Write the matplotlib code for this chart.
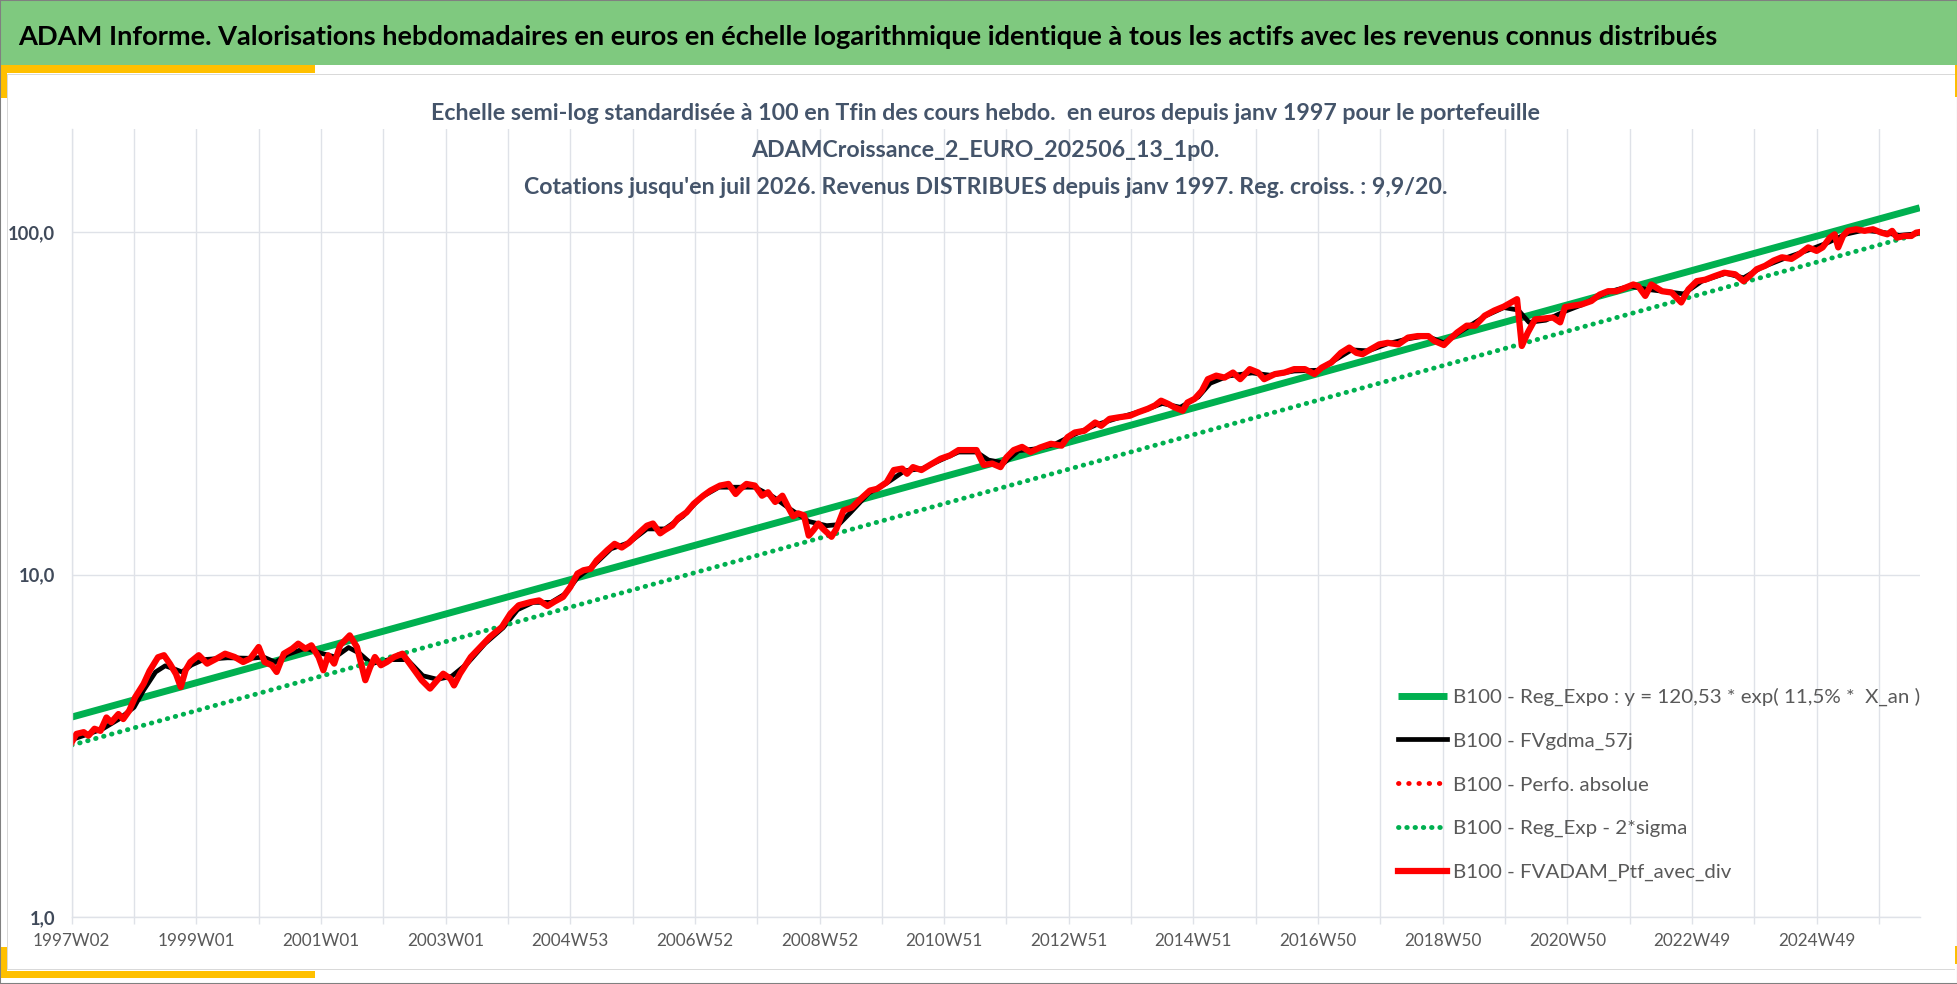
import matplotlib
matplotlib.use('Agg')
import matplotlib.pyplot as plt
from matplotlib import font_manager
from matplotlib.patches import Rectangle
from matplotlib.ticker import NullLocator

# === Données (x = index de semaine depuis 1997W02) ===
ptf_weeks = [0, 4, 10, 14, 19, 24, 29, 33, 39, 43, 48, 53, 60, 65, 72, 77, 82, 87, 91, 95,
             99, 106, 113, 121, 128, 136, 143, 149, 156, 161, 167, 171, 177, 184, 189, 195, 200, 206, 210, 214,
             219, 224, 232, 238, 245, 249, 253, 258, 263, 269, 276, 281, 287, 292, 299, 305, 310, 316, 319, 324,
             333, 341, 349, 359, 366, 373, 383, 390, 397, 403, 410, 416, 422, 427, 433, 438, 447, 453, 459, 465,
             470, 476, 480, 485, 491, 495, 501, 506, 513, 519, 527, 533, 541, 548, 554, 558, 563, 570, 576, 581,
             587, 593, 598, 602, 606, 611, 615, 619, 623, 627, 634, 638, 644, 651, 658, 666, 672, 680, 686, 693,
             697, 702, 709, 716, 725, 733, 740, 747, 755, 761, 768, 775, 780, 786, 793, 800, 808, 817, 826, 831,
             837, 845, 854, 859, 866, 874, 883, 890, 898, 904, 909, 915, 920, 927, 931, 937, 943, 948, 955, 962,
             969, 975, 983, 990, 995, 1004, 1012, 1020, 1029, 1037, 1043, 1051, 1059, 1066, 1072, 1077, 1084, 1091, 1098, 1107,
             1115, 1123, 1132, 1137, 1145, 1150, 1156, 1164, 1171, 1179, 1187, 1195, 1201, 1206, 1210, 1215, 1221, 1228, 1236, 1242,
             1246, 1253, 1260, 1268, 1275, 1282, 1289, 1296, 1303, 1307, 1313, 1318, 1327, 1335, 1343, 1349, 1356, 1363, 1371, 1379,
             1388, 1395, 1400, 1406, 1413, 1420, 1427, 1435, 1442, 1449, 1456, 1461, 1467, 1471, 1474, 1478, 1482, 1489, 1496, 1503,
             1510, 1515, 1519, 1523, 1529, 1535, 1539, 1542]
ptf_values = [3.24, 3.43, 3.47, 3.39, 3.55, 3.50, 3.83, 3.71, 3.92, 3.79, 4.01, 4.39, 4.80, 5.24, 5.74, 5.82, 5.49, 5.13, 4.70, 5.26,
              5.56, 5.82, 5.50, 5.69, 5.88, 5.75, 5.56, 5.69, 6.15, 5.56, 5.44, 5.20, 5.88, 6.08, 6.29, 6.08, 6.22, 5.75, 5.26, 5.82,
              5.50, 6.22, 6.65, 6.15, 4.92, 5.37, 5.75, 5.44, 5.56, 5.75, 5.88, 5.56, 5.20, 4.92, 4.65, 4.92, 5.14, 4.97, 4.75, 5.14,
              5.75, 6.15, 6.58, 7.04, 7.69, 8.14, 8.32, 8.41, 8.10, 8.35, 8.61, 9.2, 10.07, 10.3, 10.4, 11.0, 11.8, 12.3, 12.0, 12.4,
              12.9, 13.5, 13.9, 14.1, 13.2, 13.5, 13.9, 14.6, 15.2, 16.1, 17.0, 17.6, 18.2, 18.4, 17.2, 17.8, 18.4, 18.2, 17.0, 17.4,
              16.3, 17.0, 15.7, 14.8, 15.1, 14.9, 13.0, 13.5, 14.1, 13.6, 12.9, 13.6, 15.4, 15.7, 16.6, 17.6, 17.8, 18.6, 20.2, 20.4,
              19.7, 20.6, 20.2, 20.9, 21.8, 22.3, 23.1, 23.1, 23.1, 20.9, 21.1, 20.6, 22.0, 23.1, 23.6, 22.8, 23.5, 24.1, 23.8, 25.2,
              26.0, 26.3, 27.8, 27.2, 28.5, 28.8, 29.1, 29.8, 30.5, 31.2, 32.2, 31.5, 30.8, 30.1, 31.8, 32.6, 34.4, 37.2, 38.1, 37.6,
              38.9, 37.2, 39.8, 38.9, 37.2, 38.5, 38.9, 39.8, 39.8, 38.5, 40.2, 41.6, 44.4, 46.0, 44.4, 44.0, 45.5, 47.0, 47.5, 47.0,
              49.2, 49.7, 49.7, 48.1, 46.8, 48.7, 50.9, 53.3, 53.3, 57.0, 59.0, 60.6, 62.3, 63.7, 46.5, 50.9, 55.6, 55.9, 56.3, 54.5,
              60.4, 61.0, 61.5, 62.9, 65.7, 67.2, 67.2, 68.7, 70.3, 69.6, 65.1, 70.3, 67.2, 66.6, 62.3, 68.0, 71.9, 72.6, 74.4, 76.1,
              75.3, 71.9, 74.4, 77.9, 79.7, 82.5, 84.4, 83.5, 86.5, 90.2, 88.1, 90.2, 96.3, 98.5, 90.2, 97.4, 100.8, 101.9, 100.8, 101.9,
              99.6, 98.5, 100.8, 96.3, 97.4, 97.4, 99.6, 100.0]

gdma_weeks = [0, 13, 26, 39, 52, 60, 70, 78, 86, 92, 100, 110, 130, 150, 160, 170, 180, 195, 208, 220,
              231, 240, 250, 265, 280, 293, 305, 317, 330, 345, 360, 372, 385, 400, 412, 422, 435, 450, 465, 480,
              495, 510, 525, 540, 555, 570, 585, 600, 615, 630, 640, 650, 665, 680, 695, 710, 725, 740, 755, 765,
              778, 790, 805, 820, 835, 855, 875, 895, 910, 925, 940, 950, 965, 985, 1000, 1020, 1040, 1055, 1068, 1082,
              1098, 1115, 1130, 1145, 1160, 1180, 1195, 1207, 1216, 1230, 1245, 1260, 1280, 1300, 1315, 1330, 1345, 1360, 1380, 1395,
              1410, 1430, 1450, 1465, 1480, 1495, 1510, 1525, 1542]
gdma_values = [3.3, 3.42, 3.55, 3.78, 4.1, 4.6, 5.2, 5.42, 5.3, 5.2, 5.45, 5.65, 5.72, 5.7, 5.75, 5.55, 5.85, 6.1, 5.9, 5.75,
               6.13, 5.9, 5.5, 5.65, 5.65, 5.07, 4.95, 5.05, 5.5, 6.3, 7.0, 7.9, 8.3, 8.3, 8.8, 9.8, 10.6, 11.9, 12.4, 13.6,
               13.6, 14.8, 16.8, 18.0, 18.0, 18.0, 16.9, 15.5, 14.3, 13.9, 14.0, 15.2, 17.3, 18.5, 20.1, 20.4, 21.6, 22.8, 22.8, 21.6,
               21.2, 23.0, 23.3, 24.0, 25.5, 27.4, 28.8, 30.2, 31.6, 30.8, 33.0, 36.2, 38.0, 38.8, 38.2, 39.3, 39.5, 42.5, 45.3, 45.0,
               47.2, 48.8, 49.8, 47.5, 51.5, 57.0, 60.2, 59.2, 54.5, 55.3, 58.5, 61.3, 66.5, 69.5, 68.0, 67.0, 66.0, 71.8, 75.8, 73.5,
               78.8, 84.0, 88.8, 93.0, 98.5, 101.2, 100.0, 97.8, 99.0]

reg_weeks = [0, 1542]
reg_values = [3.84, 117.7]
reg2s_weeks = [0, 1542]
reg2s_values = [3.18, 98.9]

n_last_week = 1542
x_ticklabels = ['1997W02', '1999W01', '2001W01', '2003W01', '2004W53', '2006W52', '2008W52',
                '2010W51', '2012W51', '2014W51', '2016W50', '2018W50', '2020W50', '2022W49', '2024W49']
y_ticks = [1, 10, 100]
y_ticklabels = ['1,0', '10,0', '100,0']

legend_labels = ['B100 - Reg_Expo : y = 120,53 * exp( 11,5% *  X_an )',
                 'B100 - FVgdma_57j',
                 'B100 - Perfo. absolue',
                 'B100 - Reg_Exp - 2*sigma',
                 'B100 - FVADAM_Ptf_avec_div']

title = ("ADAM Informe. Valorisations hebdomadaires en euros en échelle logarithmique "
         "identique à tous les actifs avec les revenus connus distribués")
subtitle_lines = ["Echelle semi-log standardisée à 100 en Tfin des cours hebdo.  en euros depuis janv 1997 pour le portefeuille",
                  "ADAMCroissance_2_EURO_202506_13_1p0.",
                  "Cotations jusqu'en juil 2026. Revenus DISTRIBUES depuis janv 1997. Reg. croiss. : 9,9/20."]

# === Polices ===
_names = {f.name for f in font_manager.fontManager.ttflist}
BASE = 'Liberation Sans Narrow' if 'Liberation Sans Narrow' in _names else 'Lato'
plt.rcParams['font.family'] = [BASE, 'DejaVu Sans']

W, H = 1958, 984
fig = plt.figure(figsize=(W / 100, H / 100), dpi=100)
fig.patch.set_facecolor('white')
renderer = fig.canvas.get_renderer()


def fit_size(text, width_px, weight='normal'):
    prop = font_manager.FontProperties(family=[BASE, 'DejaVu Sans'], weight=weight, size=10)
    w, h, d = renderer.get_text_width_height_descent(text, prop, ismath=False)
    return 10 * width_px / w


def px_rect(x0, y0, x1, y1, color, z=1):
    fig.patches.append(Rectangle((x0 / W, 1 - y1 / H), (x1 - x0) / W, (y1 - y0) / H,
                                 transform=fig.transFigure, facecolor=color, edgecolor='none', zorder=z))


# === Cadre, bandeau vert, coins jaunes ===
px_rect(0, 0, W, 65, '#7FC97F')
px_rect(7, 73.5, W - 3, 74.8, '#D9D9D9')
px_rect(7, 74, 8.3, 970, '#D9D9D9')
px_rect(7, 969, W - 3, 970.3, '#D9D9D9')
px_rect(0, 65, 315, 73, '#FFC000', 2)
px_rect(0, 65, 7, 98, '#FFC000', 2)
px_rect(0, 970.5, 315, 978, '#FFC000', 2)
px_rect(0, 947, 7, 978, '#FFC000', 2)
px_rect(W - 3, 65, W, 97, '#FFC000', 2)
px_rect(W - 3, 946, W, 964, '#FFC000', 2)
fig.patches.append(Rectangle((0, 0), 1, 1, transform=fig.transFigure, facecolor='none',
                             edgecolor='#808080', linewidth=1.5, zorder=3))

# === Titres ===
fig.text(18 / W, 1 - 45 / H, title, ha='left', va='baseline', color='black',
         fontsize=fit_size(title, 1710, 'bold'), fontweight='bold')
fs_sub = fit_size(subtitle_lines[0], 1115, 'bold')
for i, line in enumerate(subtitle_lines):
    fig.text(985.5 / W, 1 - (120 + 37 * i) / H, line, ha='center', va='baseline',
             color='#44546A', fontsize=fs_sub, fontweight='bold')

# === Axes ===
left, right, bottom, top = 71.7, 1919.7, 917.3, 128.9
ax = fig.add_axes([left / W, 1 - bottom / H, (right - left) / W, (bottom - top) / H])
ax.set_yscale('log')
ax.set_xlim(0, n_last_week)
ax.set_ylim(1, 200)

ax.plot(reg_weeks, reg_values, color='#00B050', lw=5.0, solid_capstyle='butt', label=legend_labels[0])
ax.plot(gdma_weeks, gdma_values, color='black', lw=3.4, solid_joinstyle='round', label=legend_labels[1])
ax.plot(ptf_weeks, ptf_values, color='#FF0000', lw=3.5, linestyle=(0, (0.1, 2.0)),
        dash_capstyle='round', label=legend_labels[2])
ax.plot(reg2s_weeks, reg2s_values, color='#00B050', lw=3.5, linestyle=(0, (0.1, 1.6)),
        dash_capstyle='round', label=legend_labels[3])
ax.plot(ptf_weeks, ptf_values, color='#FF0000', lw=4.5, solid_joinstyle='round', label=legend_labels[4])

grid_c = '#DFE2E8'
ax.set_xticks([i * 104 for i in range(len(x_ticklabels))], labels=x_ticklabels)
ax.set_xticks(list(range(0, n_last_week + 1, 52)), minor=True)
ax.set_yticks(y_ticks, labels=y_ticklabels)
ax.yaxis.set_minor_locator(NullLocator())
ax.grid(axis='x', which='both', color=grid_c, lw=1.0)
ax.grid(axis='y', which='major', color=grid_c, lw=1.0)
ax.set_axisbelow(True)
for s in ['top', 'right']:
    ax.spines[s].set_visible(False)
for s in ['left', 'bottom']:
    ax.spines[s].set_color(grid_c)
    ax.spines[s].set_linewidth(1.0)

fs_x = 1.12 * fit_size('1997W02', 69)
fs_y = 1.12 * fit_size('100,0', 42, 'bold')
ax.tick_params(axis='x', which='both', direction='out', length=5, width=1, color=grid_c,
               pad=6.5, labelsize=fs_x, labelcolor='#595959')
ax.tick_params(axis='y', which='both', length=0, pad=12.0, labelsize=fs_y, labelcolor='#404A5A')
for t in ax.get_yticklabels():
    t.set_fontweight('bold')

# === Légende ===
fs_leg = 1.04 * fit_size(legend_labels[0], 448)
leg_px = fs_leg * 100 / 72
prop = font_manager.FontProperties(family=[BASE, 'DejaVu Sans'], size=fs_leg)
_, h_lp, _ = renderer.get_text_width_height_descent('lp', prop, ismath=False)
ax.legend(loc='center left', bbox_to_anchor=(1398 / W, 1 - 784.5 / H), bbox_transform=fig.transFigure,
          frameon=False, fontsize=fs_leg, labelcolor='#595959', borderpad=0, borderaxespad=0,
          handlelength=49 / leg_px, handletextpad=6 / leg_px, labelspacing=(43.3 - h_lp) / leg_px)

fig.savefig('out.png', dpi=100)
